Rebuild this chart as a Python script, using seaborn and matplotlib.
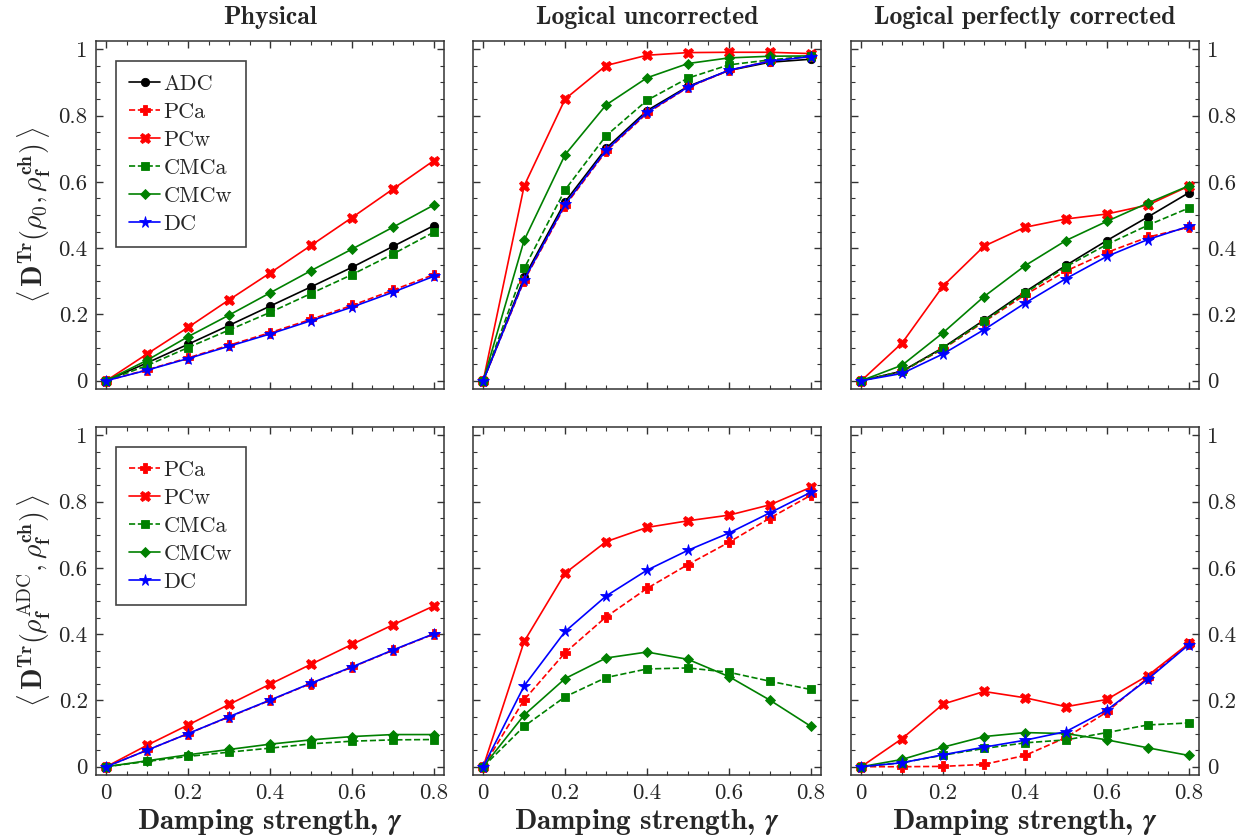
import numpy as np
import pandas as pd
import matplotlib
matplotlib.use("Agg")
import matplotlib.pyplot as plt
from matplotlib.ticker import MultipleLocator, FixedLocator
import seaborn as sns

gamma = [0.0, 0.1, 0.2, 0.3, 0.4, 0.5, 0.6, 0.7, 0.8]

# top row: trace distance between initial and final channel state
phys_adc = [0, 0.054, 0.110, 0.167, 0.225, 0.283, 0.342, 0.405, 0.468]
phys_pca = [0, 0.033, 0.069, 0.107, 0.145, 0.185, 0.227, 0.273, 0.320]
phys_pcw = [0, 0.081, 0.161, 0.244, 0.325, 0.408, 0.492, 0.578, 0.664]
phys_cmca = [0, 0.046, 0.100, 0.153, 0.206, 0.263, 0.320, 0.382, 0.448]
phys_cmcw = [0, 0.062, 0.133, 0.198, 0.265, 0.332, 0.397, 0.463, 0.530]
phys_dc = [0, 0.032, 0.067, 0.104, 0.141, 0.181, 0.222, 0.267, 0.315]

unc_adc = [0, 0.312, 0.540, 0.701, 0.815, 0.888, 0.936, 0.961, 0.970]
unc_pca = [0, 0.302, 0.528, 0.692, 0.807, 0.885, 0.936, 0.965, 0.980]
unc_pcw = [0, 0.588, 0.850, 0.951, 0.982, 0.990, 0.991, 0.991, 0.987]
unc_cmca = [0, 0.339, 0.576, 0.739, 0.846, 0.913, 0.953, 0.968, 0.979]
unc_cmcw = [0, 0.424, 0.682, 0.832, 0.914, 0.957, 0.974, 0.979, 0.980]
unc_dc = [0, 0.305, 0.532, 0.695, 0.810, 0.886, 0.937, 0.964, 0.978]

cor_adc = [0, 0.029, 0.100, 0.183, 0.268, 0.348, 0.423, 0.494, 0.567]
cor_pca = [0, 0.028, 0.096, 0.178, 0.259, 0.331, 0.387, 0.433, 0.463]
cor_pcw = [0, 0.114, 0.286, 0.406, 0.463, 0.488, 0.503, 0.530, 0.587]
cor_cmca = [0, 0.028, 0.098, 0.180, 0.264, 0.344, 0.411, 0.469, 0.521]
cor_cmcw = [0, 0.047, 0.145, 0.254, 0.347, 0.423, 0.481, 0.536, 0.588]
cor_dc = [0, 0.022, 0.081, 0.154, 0.234, 0.308, 0.375, 0.426, 0.466]

# bottom row: trace distance to the ADC final state
phys2_pca = [0, 0.050, 0.100, 0.150, 0.200, 0.251, 0.300, 0.351, 0.400]
phys2_pcw = [0, 0.065, 0.126, 0.188, 0.249, 0.309, 0.369, 0.428, 0.485]
phys2_cmca = [0, 0.016, 0.031, 0.044, 0.056, 0.069, 0.077, 0.081, 0.082]
phys2_cmcw = [0, 0.018, 0.036, 0.052, 0.068, 0.081, 0.091, 0.097, 0.097]
phys2_dc = [0, 0.050, 0.100, 0.151, 0.201, 0.252, 0.301, 0.352, 0.401]

unc2_pca = [0, 0.202, 0.344, 0.452, 0.538, 0.610, 0.677, 0.750, 0.819]
unc2_pcw = [0, 0.378, 0.584, 0.679, 0.722, 0.742, 0.759, 0.790, 0.843]
unc2_cmca = [0, 0.122, 0.211, 0.269, 0.295, 0.298, 0.285, 0.258, 0.233]
unc2_cmcw = [0, 0.156, 0.266, 0.328, 0.346, 0.324, 0.272, 0.201, 0.122]
unc2_dc = [0, 0.244, 0.408, 0.515, 0.593, 0.653, 0.705, 0.766, 0.828]

cor2_pca = [0, 0.000, 0.001, 0.007, 0.034, 0.088, 0.165, 0.269, 0.370]
cor2_pcw = [0, 0.085, 0.189, 0.227, 0.208, 0.181, 0.203, 0.275, 0.372]
cor2_cmca = [0, 0.012, 0.035, 0.055, 0.072, 0.081, 0.103, 0.126, 0.132]
cor2_cmcw = [0, 0.022, 0.059, 0.091, 0.103, 0.100, 0.081, 0.057, 0.034]
cor2_dc = [0, 0.012, 0.036, 0.059, 0.080, 0.106, 0.171, 0.264, 0.368]

titles = ["Physical", "Logical uncorrected", "Logical perfectly corrected"]
ytick_vals = [0, 0.2, 0.4, 0.6, 0.8, 1.0]
ytick_labels = ["0", "0.2", "0.4", "0.6", "0.8", "1"]
xtick_vals = [0, 0.2, 0.4, 0.6, 0.8]
xtick_labels = ["0", "0.2", "0.4", "0.6", "0.8"]

styles = {
    "ADC": dict(color="black", marker="o", ls="-", ms=6),
    "PCa": dict(color="red", marker="P", ls="--", ms=7),
    "PCw": dict(color="red", marker="X", ls="-", ms=7.5),
    "CMCa": dict(color="green", marker="s", ls="--", ms=5.5),
    "CMCw": dict(color="green", marker="D", ls="-", ms=5.5),
    "DC": dict(color="blue", marker="*", ls="-", ms=8.5),
}

panels = [
    [{"ADC": phys_adc, "PCa": phys_pca, "PCw": phys_pcw, "CMCa": phys_cmca, "CMCw": phys_cmcw, "DC": phys_dc},
     {"ADC": unc_adc, "PCa": unc_pca, "PCw": unc_pcw, "CMCa": unc_cmca, "CMCw": unc_cmcw, "DC": unc_dc},
     {"ADC": cor_adc, "PCa": cor_pca, "PCw": cor_pcw, "CMCa": cor_cmca, "CMCw": cor_cmcw, "DC": cor_dc}],
    [{"PCa": phys2_pca, "PCw": phys2_pcw, "CMCa": phys2_cmca, "CMCw": phys2_cmcw, "DC": phys2_dc},
     {"PCa": unc2_pca, "PCw": unc2_pcw, "CMCa": unc2_cmca, "CMCw": unc2_cmcw, "DC": unc2_dc},
     {"PCa": cor2_pca, "PCw": cor2_pcw, "CMCa": cor2_cmca, "CMCw": cor2_cmcw, "DC": cor2_dc}],
]

ylabels = [
    r"$\left\langle\,\mathbf{D}^{\mathbf{Tr}}(\rho_0,\rho_{\mathbf{f}}^{\mathbf{ch}})\,\right\rangle$",
    r"$\left\langle\,\mathbf{D}^{\mathbf{Tr}}(\rho_{\mathbf{f}}^{\mathrm{ADC}},\rho_{\mathbf{f}}^{\mathbf{ch}})\,\right\rangle$",
]

sns.set_style("ticks")
plt.rcParams["font.family"] = "cmr10"
plt.rcParams["mathtext.fontset"] = "cm"
plt.rcParams["axes.formatter.use_mathtext"] = True
plt.rcParams["axes.edgecolor"] = "#333333"
plt.rcParams["axes.linewidth"] = 1.1

fig = plt.figure(figsize=(12.49, 8.4), dpi=100)
W, H = 1249, 840
lefts = [96, 473, 851]
tops = [41, 427]
aw, ah = 348, 348

for r in range(2):
    for c in range(3):
        ax = fig.add_axes([lefts[c] / W, 1 - (tops[r] + ah) / H, aw / W, ah / H])
        for name, vals in panels[r][c].items():
            st = styles[name]
            df = pd.DataFrame({"gamma": gamma, "D": vals})
            sns.lineplot(data=df, x="gamma", y="D", ax=ax, color=st["color"], marker=st["marker"],
                         linestyle=st["ls"], markersize=st["ms"], markeredgewidth=0.6,
                         markeredgecolor=st["color"], linewidth=1.2, label=name, legend=False)
        ax.set_xlim(-0.025, 0.825)
        ax.set_ylim(-0.025, 1.025)
        ax.set_xticks(xtick_vals, xtick_labels)
        ax.set_yticks(ytick_vals, ytick_labels)
        ax.xaxis.set_minor_locator(MultipleLocator(0.05))
        ax.yaxis.set_minor_locator(MultipleLocator(0.05))
        ax.tick_params(which="both", direction="in", top=True, right=True, left=True, bottom=True,
                       labelsize=16.5, color="#333333", pad=6)
        ax.tick_params(which="major", length=5, width=1)
        ax.tick_params(which="minor", length=3, width=0.8)
        ax.set_xlabel("")
        ax.set_ylabel("")
        if r == 0:
            ax.tick_params(labelbottom=False)
            ax.set_title(titles[c], fontfamily="cmb10", fontsize=18.5, pad=12)
        else:
            ax.set_xlabel(r"Damping strength, $\boldsymbol{\gamma}$", fontfamily="cmb10", fontsize=21, labelpad=3)
        if c == 0:
            ax.set_ylabel(ylabels[r], fontsize=20, labelpad=5)
            leg = ax.legend(loc="upper left", fontsize=16, frameon=True, fancybox=False,
                            edgecolor="#444444", framealpha=1, handlelength=1.4, handletextpad=0.15,
                            labelspacing=0.38, borderaxespad=0.9, borderpad=0.6)
            leg.get_frame().set_linewidth(1.2)
        elif c == 1:
            ax.tick_params(labelleft=False)
        else:
            ax.tick_params(labelleft=False, labelright=True)

fig.savefig("out.png", dpi=100)
